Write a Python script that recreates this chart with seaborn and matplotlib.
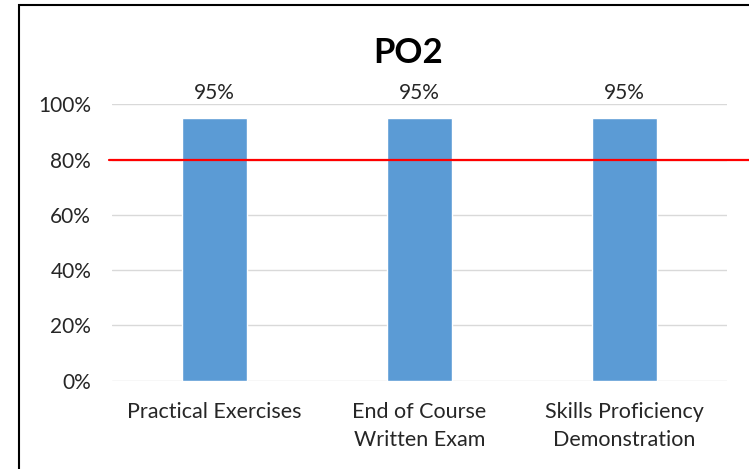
import matplotlib.pyplot as plt
import matplotlib.ticker as mticker
from matplotlib.patches import Rectangle
import pandas as pd
import seaborn as sns

# chart data
CATEGORIES = ["Practical Exercises", "End of Course\nWritten Exam", "Skills Proficiency\nDemonstration"]
SCORES = [0.95, 0.95, 0.95]
TARGET = 0.80
TITLE = "PO2"

BAR_COLOR = "#5B9BD5"
TEXT_COLOR = "#262626"

sns.set_theme(style="white")
plt.rcParams["font.family"] = ["Lato", "DejaVu Sans"]

W, H = 749, 469
fig = plt.figure(figsize=(W / 100, H / 100), dpi=100)
fig.patch.set_facecolor("white")

left, right, top, bottom = 112, 727, 104.5, 380.7
ax = fig.add_axes([left / W, 1 - bottom / H, (right - left) / W, (bottom - top) / H])

df = pd.DataFrame({"category": CATEGORIES, "score": SCORES})
sns.barplot(data=df, x="category", y="score", color=BAR_COLOR, width=0.315,
            saturation=1, ax=ax, zorder=3)

ax.set_xlim(-0.5, len(CATEGORIES) - 0.5)
ax.set_ylim(0, 1.0)
ax.yaxis.set_major_locator(mticker.MultipleLocator(0.2))
ax.yaxis.set_major_formatter(mticker.PercentFormatter(1.0, decimals=0))
ax.grid(axis="y", color="#D9D9D9", linewidth=1.0, zorder=0)
ax.grid(axis="x", visible=False)
for s in ax.spines.values():
    s.set_visible(False)
ax.set_xlabel("")
ax.set_ylabel("")
ax.tick_params(axis="y", length=0, pad=15, labelsize=15, labelcolor=TEXT_COLOR)
ax.tick_params(axis="x", length=0, pad=15, labelsize=15.5, labelcolor=TEXT_COLOR)
for lbl in ax.get_xticklabels():
    lbl.set_linespacing(1.5)

# value labels
for i, v in enumerate(SCORES):
    ax.text(i, v + 0.055, f"{v:.0%}", ha="center", va="bottom", fontsize=15,
            color=TEXT_COLOR, clip_on=False)

# target line runs past the plot area to the image edge
ax.axhline(TARGET, xmin=-0.005, xmax=1.1, color="#FF0000", linewidth=1.6,
           clip_on=False, zorder=4)

fig.text(408 / W, 1 - 53 / H, TITLE, ha="center", va="center", fontsize=25,
         fontweight="bold", color="black")

# chart border (cropped on the right and bottom)
fig.add_artist(Rectangle((18.5 / W, -0.1), 2.0, 1.1 - 5.5 / H, transform=fig.transFigure,
                         fill=False, edgecolor="black", linewidth=1.5))

fig.savefig("out.png", dpi=100, facecolor="white")
